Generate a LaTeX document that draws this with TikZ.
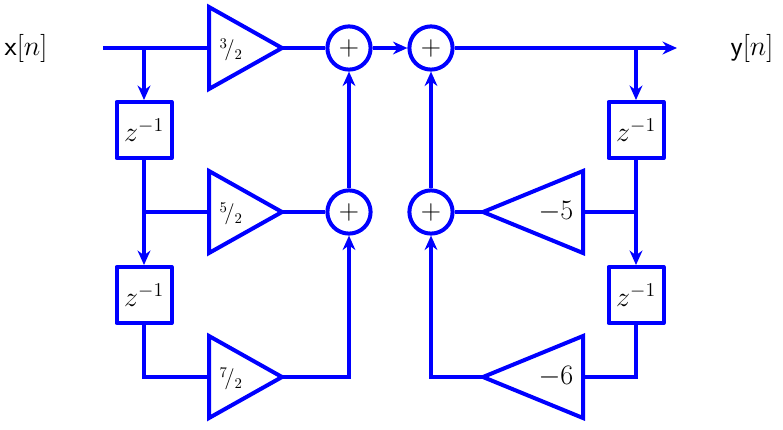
\RequirePackage{fix-cm}
\documentclass[tikz,border=0pt]{standalone}
\usetikzlibrary{arrows.meta}

\begin{document}
\begin{tikzpicture}[
  wire/.style={draw=blue, line width=0.1cm},
  flow/.style={wire, -{Stealth[length=0.36cm, width=0.32cm]}},
  delay/.style={wire, line join=round, minimum width=1.375cm, minimum height=1.4cm, inner sep=0pt, font=\fontsize{20}{24}\selectfont},
  adder/.style={wire, circle, minimum size=1.08cm, inner sep=0pt, font=\fontsize{20}{24}\selectfont},
  gainfrac/.style={inner sep=0pt, font=\fontsize{15}{18}\selectfont},
  gainnum/.style={inner sep=0pt, font=\fontsize{20}{24}\selectfont}
]
\useasboundingbox (0,0) rectangle (19.575,-10.725);

% Input and output
\node[font=\fontsize{20}{24}\selectfont] (x) at (0.65,-1.2) {\textsf{x}$[n]$};
\node[font=\fontsize{20}{24}\selectfont] (y) at (18.8,-1.2) {\textsf{y}$[n]$};
\coordinate (in) at (2.575,-1.2);
\coordinate (out) at (16.925,-1.2);

% Feed-forward delays
\coordinate (xa) at (3.6,-1.2);
\coordinate (xb) at (3.6,-5.3);
\coordinate (xc) at (3.6,-9.425);
\node[delay] (dl1) at (3.6,-3.25) {$z^{-1}$};
\node[delay] (dl2) at (3.6,-7.375) {$z^{-1}$};

% Feed-forward gains
\foreach \r/\y/\g in {1/-1.2/3, 2/-5.3/5, 3/-9.425/7} {
  \draw[wire] (5.225,{\y+1.025}) -- (7.05,\y) -- (5.225,{\y-1.025}) -- cycle;
  \coordinate (b\r) at (5.225,\y);
  \coordinate (t\r) at (7.05,\y);
  \node[gainfrac] (g\r) at (5.78,{\y-0.05}) {${}^{\g}\!/{}_{2}$};
}

% Adders
\node[adder] (s1) at (8.725,-1.2) {$+$};
\node[adder] (s2) at (10.775,-1.2) {$+$};
\node[adder] (s3) at (8.725,-5.3) {$+$};
\node[adder] (s4) at (10.775,-5.3) {$+$};

% Feedback delays
\coordinate (ya) at (15.9,-1.2);
\coordinate (yb) at (15.9,-5.3);
\coordinate (yc) at (15.9,-9.425);
\node[delay] (dr1) at (15.9,-3.25) {$z^{-1}$};
\node[delay] (dr2) at (15.9,-7.375) {$z^{-1}$};

% Feedback gains
\foreach \r/\y/\g in {4/-5.3/5, 5/-9.425/6} {
  \draw[wire] (14.575,{\y+1.025}) -- (12.075,\y) -- (14.575,{\y-1.025}) -- cycle;
  \coordinate (b\r) at (14.575,\y);
  \coordinate (t\r) at (12.075,\y);
  \node[gainnum] (g\r) at (13.9,\y) {$-\g$};
}

% Feed-forward wiring
\draw[wire] (in) -- (b1);
\draw[wire] (t1) -- (s1);
\draw[flow] (xa) -- (dl1);
\draw[wire] (dl1) -- (xb) -- (b2);
\draw[flow] (xb) -- (dl2);
\draw[wire] (dl2) -- (xc) -- (b3);
\draw[wire] (t2) -- (s3);
\draw[flow] (t3) -| (s3);
\draw[flow] (s3) -- (s1);
\draw[flow] (s1) -- (s2);
\draw[flow] (s2) -- (out);

% Feedback wiring
\draw[flow] (ya) -- (dr1);
\draw[wire] (dr1) -- (yb) -- (b4);
\draw[flow] (yb) -- (dr2);
\draw[wire] (dr2) -- (yc) -- (b5);
\draw[wire] (t4) -- (s4);
\draw[flow] (t5) -| (s4);
\draw[flow] (s4) -- (s2);

\end{tikzpicture}
\end{document}
